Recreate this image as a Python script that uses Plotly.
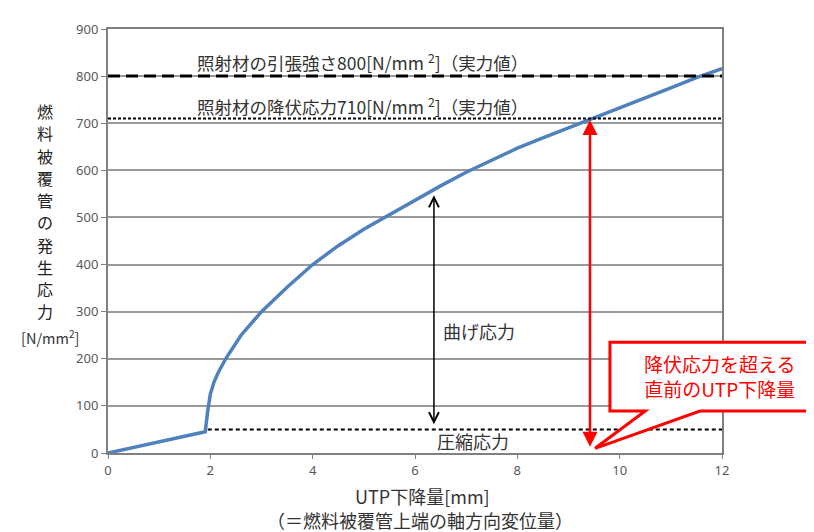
import plotly.graph_objects as go

# ---- data ----
utp_drop = [0, 1.9, 1.95, 2.0, 2.07, 2.15, 2.3, 2.6, 3.0, 3.5, 4.0, 4.5, 5.0, 5.5, 6.0, 6.5, 7.0,
            7.5, 8.0, 8.5, 9.0, 9.5, 10.0, 10.5, 11.0, 11.5, 12.0]
stress = [0, 45, 90, 125, 150, 170, 200, 250, 300, 352, 400, 440, 475, 506, 538, 567, 596,
          622, 647, 669, 690, 710, 731, 753, 775, 797, 816]

tensile_strength = 800
yield_stress = 710
compressive_stress = 50
yield_drop = 9.42
bend_arrow_x = 6.37

x_ticks = [0, 2, 4, 6, 8, 10, 12]
y_ticks = [0, 100, 200, 300, 400, 500, 600, 700, 800, 900]

label_tensile = "照射材の引張強さ800[N/mm <sup>2</sup>]（実力値）"
label_yield = "照射材の降伏応力710[N/mm <sup>2</sup>]（実力値）"
label_bend = "曲げ応力"
label_comp = "圧縮応力"
callout_text = "降伏応力を超える<br>直前のUTP下降量"
x_title_1 = "UTP下降量[mm]"
x_title_2 = "（＝燃料被覆管上端の軸方向変位量）"
y_title_chars = "燃料被覆管の発生応力"
y_title_unit = "[N/mm<sup>2</sup>]"

X_MAX, Y_MAX = 12, 900
FONT = "Noto Sans CJK JP, Noto Sans, sans-serif"
TXT = "#333333"

# plot-area geometry in page pixels (page has an 8px body margin)
PLOT_L, PLOT_R, PLOT_T, PLOT_B = 108, 722, 20, 453
PW, PH = PLOT_R - PLOT_L, PLOT_B - PLOT_T


def px(v):
    return v / X_MAX


def py(v):
    return v / Y_MAX


def page_x(p):
    return (p - PLOT_L) / PW


def page_y(p):
    return (PLOT_B - p) / PH


fig = go.Figure()
fig.add_trace(go.Scatter(x=utp_drop, y=stress, mode="lines",
                         line=dict(color="#4F81BD", width=3.5),
                         showlegend=False, hoverinfo="x+y"))

shapes = [
    dict(type="line", xref="x", yref="y", x0=0, x1=X_MAX, y0=tensile_strength, y1=tensile_strength,
         line=dict(color="black", width=3, dash="12px,6px")),
    dict(type="line", xref="x", yref="y", x0=0, x1=X_MAX, y0=yield_stress, y1=yield_stress,
         line=dict(color="black", width=2, dash="3px,2px")),
    dict(type="line", xref="x", yref="y", x0=utp_drop[1] + 0.05, x1=X_MAX,
         y0=compressive_stress, y1=compressive_stress,
         line=dict(color="black", width=2, dash="4px,3px")),
]

# callout box with pointer (data-space values converted to paper so it can leave the plot)
bx0, bx1, by0, by1 = 9.81, 13.76, 89, 235
tip_x, tip_y = 9.52, 10
b1, b2 = 10.5, 11.57
path = (f"M{px(bx0)},{py(by1)} L{px(bx1)},{py(by1)} L{px(bx1)},{py(by0)} "
        f"L{px(b2)},{py(by0)} L{px(tip_x)},{py(tip_y)} L{px(b1)},{py(by0)} "
        f"L{px(bx0)},{py(by0)} Z")
shapes.append(dict(type="path", xref="paper", yref="paper", path=path,
                   fillcolor="white", opacity=1, line=dict(color="#FF0000", width=3),
                   layer="above"))

annotations = [
    dict(x=4.97, y=831, xref="x", yref="y", text=label_tensile, showarrow=False,
         xanchor="center", yanchor="middle", font=dict(family=FONT, size=17.5, color=TXT)),
    dict(x=4.97, y=737, xref="x", yref="y", text=label_yield, showarrow=False,
         xanchor="center", yanchor="middle", font=dict(family=FONT, size=17.5, color=TXT)),
    dict(x=6.5, y=260, xref="x", yref="y", text=label_bend, showarrow=False, xanchor="left",
         yanchor="middle", font=dict(family=FONT, size=18, color=TXT)),
    dict(x=6.4, y=25, xref="x", yref="y", text=label_comp, showarrow=False, xanchor="left",
         yanchor="middle", font=dict(family=FONT, size=18, color=TXT)),
    # bending stress double arrow
    dict(x=bend_arrow_x, y=547, ax=bend_arrow_x, ay=58, xref="x", yref="y", axref="x", ayref="y",
         text="", showarrow=True, arrowhead=5, arrowsize=1.3, arrowwidth=1.5,
         arrowside="end+start", arrowcolor="black"),
    # compressive arrow under the axis
    dict(x=bend_arrow_x, y=-8, ax=bend_arrow_x, ay=-58, xref="x", yref="y", axref="x", ayref="y",
         text="", showarrow=True, arrowhead=5, arrowsize=1.3, arrowwidth=1.5,
         arrowcolor="black"),
    # red yield arrow
    dict(x=yield_drop, y=yield_stress - 3, ax=yield_drop, ay=10, xref="x", yref="y",
         axref="x", ayref="y", text="", showarrow=True, arrowhead=2, arrowsize=1.2,
         arrowwidth=2.5, arrowside="end+start", arrowcolor="#FF0000"),
    # callout text
    dict(x=px(11.96), y=py(163), xref="paper", yref="paper", text=callout_text,
         xanchor="center", yanchor="middle", showarrow=False,
         font=dict(family=FONT, size=19, color="#FF0000")),
    # x-axis title
    dict(x=page_x(422), y=page_y(497), xref="paper", yref="paper", text=x_title_1,
         showarrow=False, xanchor="center", yanchor="middle",
         font=dict(family=FONT, size=18, color=TXT)),
    dict(x=page_x(420), y=page_y(521), xref="paper", yref="paper", text=x_title_2,
         showarrow=False, xanchor="center", yanchor="middle",
         font=dict(family=FONT, size=18, color=TXT)),
    dict(x=page_x(50), y=page_y(335), xref="paper", yref="paper", text=y_title_unit,
         showarrow=False, xanchor="center", yanchor="middle",
         font=dict(family=FONT, size=14.5, color=TXT)),
]

# vertical y-axis title, one character per annotation
top_px, step_px = 104, 22.7
for i, ch in enumerate(y_title_chars):
    annotations.append(dict(x=page_x(45), y=page_y(top_px + i * step_px),
                            xref="paper", yref="paper", text=ch, showarrow=False,
                            xanchor="center", yanchor="middle",
                            font=dict(family=FONT, size=16, color="#222222")))

fig.update_layout(
    width=806, height=524,
    margin=dict(l=PLOT_L - 8, r=806 - (PLOT_R - 8), t=PLOT_T - 8, b=524 - (PLOT_B - 8)),
    paper_bgcolor="white", plot_bgcolor="white",
    shapes=shapes, annotations=annotations,
    xaxis=dict(range=[0, X_MAX], tickvals=x_ticks, showgrid=False, zeroline=False,
               showline=True, linecolor="#808080", linewidth=2, mirror=True,
               ticks="outside", ticklen=4, tickcolor="#808080",
               tickfont=dict(family="Noto Sans", size=13, color="#595959")),
    yaxis=dict(range=[0, Y_MAX], tickvals=y_ticks, showgrid=True, gridcolor="#9a9a9a",
               gridwidth=2, zeroline=False, showline=True, linecolor="#808080",
               linewidth=2, mirror=True, ticks="outside", ticklen=5, tickcolor="#808080",
               tickfont=dict(family="Noto Sans", size=13, color="#595959")),
)

fig.write_html("out.html")
